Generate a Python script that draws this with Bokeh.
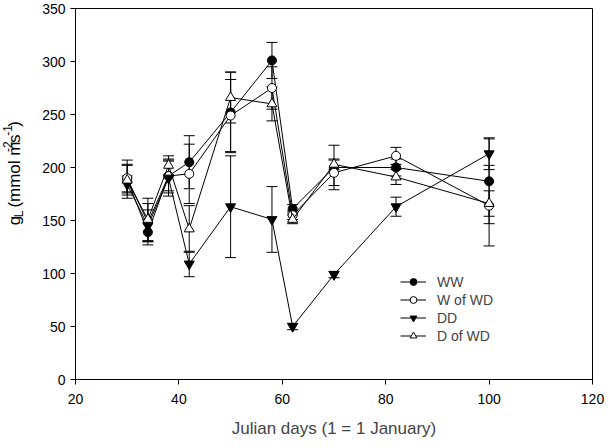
import math
from bokeh.plotting import figure
from bokeh.layouts import row
from bokeh.models import (ColumnDataSource, Whisker, TeeHead, Legend, LegendItem,
                          FixedTicker, Range1d)
from bokeh.core.properties import value
from bokeh.embed import file_html
from bokeh.resources import INLINE

# ---- data ----
days = [30, 34, 38, 42, 50, 58, 62, 70, 82, 100]
ww = [189, 139, 192, 205, 252, 301, 161, 200, 200, 187]
ww_se = [18, 12, 16, 25, 38, 17, 4, 21, 8, 40]
w_of_wd = [190, 148, 192, 194, 249, 275, 155, 195, 211, 164]
w_of_wd_se = [13, 18, 14, 28, 34, 20, 4, 12, 8, 38]
dd = [184, 145, 190, 109, 163, 151, 50, 99, 163, 213]
dd_se = [8, 15, 17, 12, 48, 31, 3, 3, 9, 15]
d_of_wd = [188, 151, 202, 142, 266, 260, 151, 203, 191, 166]
d_of_wd_se = [14, 20, 9, 22, 24, 16, 4, 5, 7, 12]

series_names = ["WW", "W of WD", "DD", "D of WD"]
x_ticks = [20, 40, 60, 80, 100, 120]
y_ticks = [0, 50, 100, 150, 200, 250, 300, 350]

FONT = "Liberation Sans"
H = 440
LW = 30  # width of the strip that holds the y-axis title

p = figure(width=604 - LW, height=H, output_backend="svg", toolbar_location=None,
           x_range=Range1d(20, 120), y_range=Range1d(0, 350),
           min_border_left=75 - LW, min_border_right=12, min_border_top=8,
           min_border_bottom=61)
p.xgrid.visible = False
p.ygrid.visible = False
p.outline_line_color = "black"
p.outline_line_width = 1
p.background_fill_color = "white"
p.border_fill_color = "white"

for ax in (p.xaxis[0], p.yaxis[0]):
    ax.axis_line_color = "black"
    ax.major_tick_line_color = "black"
    ax.minor_tick_line_color = None
    ax.major_tick_out = 5
    ax.major_tick_in = 0
    ax.major_label_text_font = FONT
    ax.major_label_text_font_size = "14px"
    ax.major_label_text_color = "black"

p.xaxis.ticker = FixedTicker(ticks=x_ticks)
p.yaxis.ticker = FixedTicker(ticks=y_ticks)
p.xaxis.major_label_standoff = 9
p.yaxis.major_label_standoff = 5
p.xaxis.axis_label = "Julian days (1 = 1 January)"
p.xaxis.axis_label_text_font = FONT
p.xaxis.axis_label_text_font_size = "17px"
p.xaxis.axis_label_text_font_style = "normal"
p.xaxis.axis_label_standoff = 12

vals = [ww, w_of_wd, dd, d_of_wd]
ses = [ww_se, w_of_wd_se, dd_se, d_of_wd_se]
markers = ["circle", "circle", "inverted_triangle", "triangle"]
fills = ["black", "white", "black", "white"]
sizes = [9, 9, 10, 10]

items = []
for name, v, se, mk, fc, sz in zip(series_names, vals, ses, markers, fills, sizes):
    src = ColumnDataSource(dict(x=days, y=v,
                                lo=[a - b for a, b in zip(v, se)],
                                hi=[a + b for a, b in zip(v, se)]))
    w = Whisker(source=src, base="x", upper="hi", lower="lo", line_color="black",
                line_width=1, level="underlay",
                upper_head=TeeHead(size=11, line_color="black", line_width=1),
                lower_head=TeeHead(size=11, line_color="black", line_width=1))
    p.add_layout(w)
    ln = p.line("x", "y", source=src, line_color="black", line_width=1)
    sc = p.scatter("x", "y", source=src, marker=mk, size=sz, fill_color=fc,
                   line_color="black", line_width=1)
    items.append(LegendItem(label=name, renderers=[ln, sc]))

legend = Legend(items=items, location=(325, 35), border_line_color=None,
                background_fill_alpha=0, padding=0, margin=0, spacing=1,
                glyph_width=26, glyph_height=17, label_height=17, label_standoff=11,
                label_text_font=FONT, label_text_font_size="14px")
p.add_layout(legend)

# ---- y axis title strip (pixel coordinates, y downward) ----
lab = figure(width=LW, height=H, output_backend="svg", toolbar_location=None,
             x_range=Range1d(0, LW), y_range=Range1d(H, 0),
             x_axis_type=None, y_axis_type=None,
             min_border_left=0, min_border_right=0, min_border_top=0, min_border_bottom=0)
lab.outline_line_color = None
lab.xgrid.visible = False
lab.ygrid.visible = False

W = {'g': 0.556, 'L': 0.556, ' ': 0.278, '(': 0.333, 'm': 0.833, 'o': 0.556,
     'l': 0.222, '-': 0.333, '2': 0.556, 's': 0.5, '1': 0.556, ')': 0.333}
BIG, SMALL = 17, 12
# (text, font size, baseline shift toward the top of the glyphs, extra gap before)
pieces = [("g", BIG, 0, 0), ("L", SMALL, -4, 0), ("(mmol m", BIG, 0, W[' '] * BIG),
          ("-2", SMALL, 7, 0), ("s", BIG, 0, 0), ("-1", SMALL, 7, 0), (")", BIG, 0, 0)]
base_x = 14
pos_y = 257
for txt, fs, shift, gap in pieces:
    pos_y -= gap
    lab.text(x=[base_x - shift], y=[pos_y], text=[txt], angle=math.pi / 2,
             text_font=value(FONT), text_font_size=f"{fs}px", text_align="left",
             text_baseline="alphabetic", text_color="black")
    pos_y -= sum(W.get(c, 0.55) for c in txt) * fs

layout = row(lab, p, spacing=0)
open("out.html", "w").write(file_html(layout, INLINE))
